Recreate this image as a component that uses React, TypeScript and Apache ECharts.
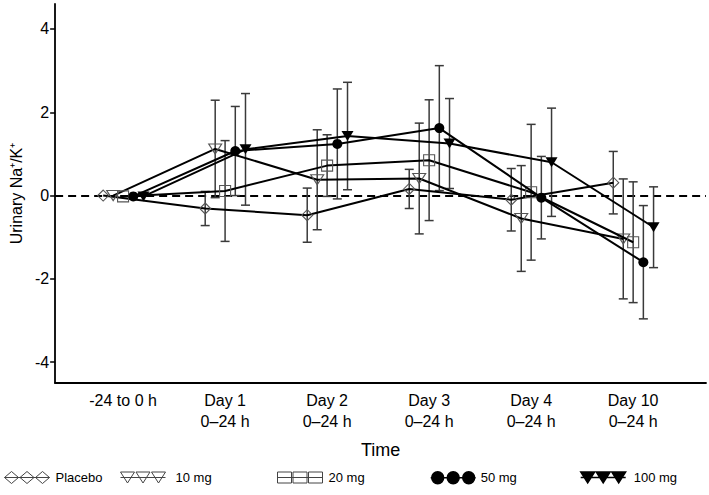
import React, { useEffect, useRef } from "react";
import * as echarts from "echarts";

const categories = ["-24 to 0 h", "Day 1\n0–24 h", "Day 2\n0–24 h", "Day 3\n0–24 h", "Day 4\n0–24 h", "Day 10\n0–24 h"];
const yTicks = [-4, -2, 0, 2, 4];
const seriesNames = ["Placebo", "10 mg", "20 mg", "50 mg", "100 mg"];

const placeboMean = [0, -0.31, -0.47, 0.16, -0.1, 0.31];
const placeboErr = [0, 0.41, 0.65, 0.47, 0.75, 0.75];
const mg10Mean = [0, 1.12, 0.38, 0.41, -0.55, -1.04];
const mg10Err = [0, 1.17, 1.2, 1.33, 1.27, 1.44];
const mg20Mean = [-0.02, 0.11, 0.72, 0.85, 0.08, -1.12];
const mg20Err = [0, 1.21, 0.74, 1.45, 1.63, 1.45];
const mg50Mean = [-0.02, 1.07, 1.24, 1.62, -0.05, -1.6];
const mg50Err = [0, 1.07, 1.32, 1.5, 0.99, 1.36];
const mg100Mean = [-0.02, 1.11, 1.43, 1.25, 0.8, -0.76];
const mg100Err = [0, 1.34, 1.29, 1.08, 1.3, 0.97];

const means = [placeboMean, mg10Mean, mg20Mean, mg50Mean, mg100Mean];
const errs = [placeboErr, mg10Err, mg20Err, mg50Err, mg100Err];
const dodge = [-0.195, -0.097, 0, 0.1, 0.2];

const FONT = "'Liberation Sans', Arial, sans-serif";
const NARROW = "'Liberation Sans Narrow', 'Arial Narrow', 'Liberation Sans', Arial, sans-serif";

const symDiamond = "path://M0,-1L1,0L0,1L-1,0Z";
const symTriDown = "path://M-1,-0.8L1,-0.8L0,0.8Z";
const symSquare = "path://M-1,-1L1,-1L1,1L-1,1Z";

const cx = [7, 22.5, 38];
const iconLine = "M0,6L45,6";
const iconDiamond = "path://" + cx.map((c) => `M${c},0L${c + 7},6L${c},12L${c - 7},6Z`).join("") + iconLine;
const iconTri = "path://" + cx.map((c) => `M${c - 7},0.5L${c + 7},0.5L${c},11.5Z`).join("") + iconLine;
const iconSquare = "path://" + cx.map((c) => `M${c - 7},0.5L${c + 7},0.5L${c + 7},11.5L${c - 7},11.5Z`).join("") + iconLine;
const iconCircle = "path://" + cx.map((c) => `M${c - 6},6A6,6,0,1,0,${c + 6},6A6,6,0,1,0,${c - 6},6Z`).join("") + iconLine;

const legendLeft = [4, 120, 277, 430, 580];
const legendTextPad = [1, 5, 1, 0, 3];

export default function App() {
  const ref = useRef<HTMLDivElement>(null);
  useEffect(() => {
    if (!ref.current) return;
    const chart = echarts.init(ref.current, undefined, { renderer: "svg" });

    const openStyle = { color: "rgba(255,255,255,0)", borderColor: "#555", borderWidth: 1.1 };
    const markerCfg = [
      { symbol: symDiamond, size: [11, 11], itemStyle: openStyle },
      { symbol: symTriDown, size: [13, 10], itemStyle: openStyle },
      { symbol: symSquare, size: [11, 11], itemStyle: openStyle },
      { symbol: "circle", size: 10, itemStyle: { color: "#000", borderColor: "#000", borderWidth: 0 } },
      { symbol: symTriDown, size: [12, 10], itemStyle: { color: "#000", borderColor: "#000", borderWidth: 0 } },
    ];
    const icons = [iconDiamond, iconTri, iconSquare, iconCircle, iconTri];
    const legendStyles = [
      { color: "#fff", borderColor: "#444", borderWidth: 1 },
      { color: "#fff", borderColor: "#444", borderWidth: 1 },
      { color: "#fff", borderColor: "#444", borderWidth: 1 },
      { color: "#000", borderColor: "#000", borderWidth: 1.4 },
      { color: "#000", borderColor: "#000", borderWidth: 1.4 },
    ];

    const errData: number[][] = [];
    means.forEach((m, s) => {
      m.forEach((v, i) => {
        const e = errs[s][i];
        if (e > 0) errData.push([i + dodge[s], v - e, v + e]);
      });
    });

    const lineSeries = seriesNames.map((name, s) => ({
      name,
      type: "line",
      data: means[s].map((v, i) => [i + dodge[s], v]),
      symbol: markerCfg[s].symbol,
      symbolSize: markerCfg[s].size,
      showAllSymbol: true,
      lineStyle: { color: "#000", width: 2 },
      itemStyle: markerCfg[s].itemStyle,
      z: 3 + s,
      ...(s === 0
        ? {
            markLine: {
              silent: true,
              symbol: "none",
              label: { show: false },
              lineStyle: { color: "#000", width: 2, type: [8, 5] },
              data: [{ yAxis: 0 }],
              z: 1,
            },
          }
        : {}),
    }));

    chart.setOption({
      animation: false,
      backgroundColor: "#fff",
      grid: { left: 45, right: 3, top: 4, bottom: 112 },
      xAxis: {
        type: "value",
        min: -0.666,
        max: 5.714,
        name: "Time",
        nameLocation: "middle",
        nameGap: 58,
        nameTextStyle: { fontSize: 18, fontFamily: FONT, color: "#000" },
        axisLine: { onZero: false, lineStyle: { color: "#000", width: 1.8 } },
        axisTick: { show: false },
        splitLine: { show: false },
        axisLabel: {
          customValues: [0, 1, 2, 3, 4, 5],
          formatter: (v: number) => categories[Math.round(v)] ?? "",
          fontSize: 16,
          lineHeight: 21,
          fontFamily: FONT,
          color: "#000",
          margin: 7,
          verticalAlign: "top",
        },
      },
      yAxis: {
        type: "value",
        min: -4.5,
        max: 4.6,
        name: "Urinary Na⁺/K⁺",
        nameLocation: "middle",
        nameGap: 31,
        nameTextStyle: { fontSize: 16, fontFamily: FONT, color: "#000" },
        axisLine: { show: true, onZero: false, lineStyle: { color: "#000", width: 1.8 } },
        axisTick: { show: true, customValues: yTicks, length: 5, lineStyle: { color: "#000", width: 1.5 } },
        splitLine: { show: false },
        axisLabel: {
          customValues: yTicks,
          fontSize: 16,
          fontFamily: FONT,
          color: "#000",
          margin: 6,
        },
      },
      legend: seriesNames.map((name, i) => ({
        data: [{ name, icon: icons[i], itemStyle: legendStyles[i] }],
        left: legendLeft[i],
        top: 471,
        padding: 0,
        itemWidth: 45,
        itemHeight: 13,
        selectedMode: false,
        textStyle: { fontSize: 13, fontFamily: NARROW, color: "#000", padding: [0, 0, 0, legendTextPad[i]] },
      })),
      series: [
        {
          type: "custom",
          name: "errors",
          data: errData,
          encode: { x: 0, y: [1, 2] },
          z: 2,
          silent: true,
          renderItem: (params: any, api: any) => {
            const x = api.value(0);
            const lo = api.coord([x, api.value(1)]);
            const hi = api.coord([x, api.value(2)]);
            const w = 4.5;
            const st = { stroke: "#3a3a3a", lineWidth: 1.5 };
            return {
              type: "group",
              children: [
                { type: "line", shape: { x1: lo[0], y1: lo[1], x2: hi[0], y2: hi[1] }, style: st },
                { type: "line", shape: { x1: lo[0] - w, y1: lo[1], x2: lo[0] + w, y2: lo[1] }, style: st },
                { type: "line", shape: { x1: hi[0] - w, y1: hi[1], x2: hi[0] + w, y2: hi[1] }, style: st },
              ],
            };
          },
        },
        ...lineSeries,
      ],
    });
    return () => chart.dispose();
  }, []);
  return <div ref={ref} style={{ position: "fixed", left: 0, top: 0, width: 709, height: 495 }} />;
}
